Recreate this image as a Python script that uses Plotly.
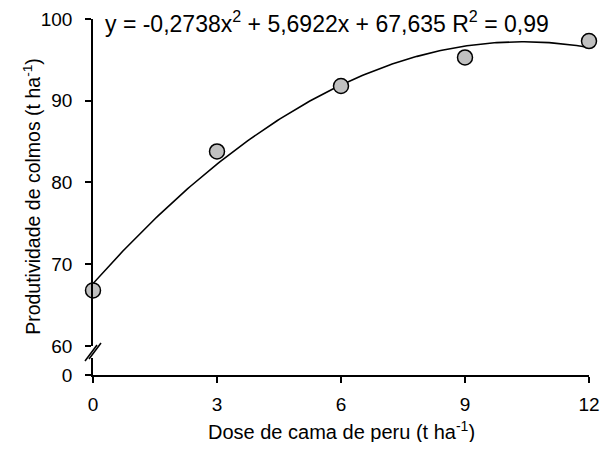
import numpy as np
import plotly.graph_objects as go

# Data
doses = [0, 3, 6, 9, 12]
produtividade = [66.8, 83.8, 91.8, 95.3, 97.3]
# regression coefficients shown on chart (a*x^2 + b*x + c)
coef_a, coef_b, coef_c = -0.2738, 5.6922, 67.635
x_ticks = [0, 3, 6, 9, 12]
y_ticks = [60, 70, 80, 90, 100]
equation = "y = -0,2738x<sup>2</sup> + 5,6922x + 67,635 R<sup>2</sup> = 0,99"
x_title = "Dose de cama de peru (t ha<sup>-1</sup>)"
y_title = "Produtividade de colmos (t ha<sup>-1</sup>)"

xf = np.linspace(0, 12, 200)
yf = coef_a * xf**2 + coef_b * xf + coef_c

FONT = "Liberation Sans, Arial, sans-serif"
OFF = 8  # page body margin
W, H = 609 - 2 * OFF, 450 - 2 * OFF
# target page pixels: plot left 93, right 589, top 19.3, bottom 375
L, R, T = 93 - OFF, W - (589 - OFF), 19.3 - OFF
B = H - (375 - OFF)
H_PLOT = H - T - B
W_PLOT = W - L - R

fig = go.Figure()
fig.add_trace(go.Scatter(x=xf, y=yf, mode="lines",
                         line=dict(color="black", width=1.6),
                         hoverinfo="skip", showlegend=False,
                         xaxis="x", yaxis="y"))
fig.add_trace(go.Scatter(x=doses, y=produtividade, mode="markers",
                         marker=dict(size=15, color="#c0c0c0",
                                     line=dict(color="black", width=1.5)),
                         cliponaxis=False, showlegend=False,
                         xaxis="x", yaxis="y"))
# invisible trace to create lower (broken) axis segment
fig.add_trace(go.Scatter(x=[0], y=[0], mode="markers",
                         marker=dict(size=1, opacity=0), showlegend=False,
                         hoverinfo="skip", xaxis="x", yaxis="y2"))

d_main = (375 - 346) / H_PLOT
d_low = (375 - 358) / H_PLOT
d_break = (375 - 351) / H_PLOT

axis_common = dict(showline=True, linecolor="black", linewidth=1.5,
                   ticks="outside", ticklen=6, tickwidth=1.5, tickcolor="black",
                   showgrid=False, zeroline=False, automargin=False,
                   tickfont=dict(size=19))

fig.update_layout(
    width=W, height=H,
    margin=dict(l=L, r=R, t=T, b=B),
    paper_bgcolor="white", plot_bgcolor="white",
    font=dict(family=FONT, size=19, color="black"),
    xaxis=dict(range=[0, 12], tickvals=x_ticks, anchor="y2",
               ticklabelstandoff=5, **axis_common),
    yaxis=dict(domain=[d_main, 1], range=[60, 100], tickvals=y_ticks,
               anchor="x", ticklabelstandoff=9, **axis_common),
    yaxis2=dict(domain=[0, d_low], range=[0, 10], tickvals=[0],
                anchor="x", ticklabelstandoff=9, **axis_common),
    annotations=[
        dict(text=equation, x=0, y=99.6, xref="x", yref="y",
             xanchor="left", yanchor="middle", xshift=10,
             showarrow=False, font=dict(size=23)),
        dict(text=x_title, x=0.5, y=-(430 - 375) / H_PLOT, xref="paper", yref="paper",
             xanchor="center", yanchor="middle", showarrow=False,
             font=dict(size=20)),
        dict(text=y_title, x=-(93 - 32) / W_PLOT, y=(375 - 197) / H_PLOT,
             xref="paper", yref="paper", textangle=-90,
             xanchor="center", yanchor="middle", showarrow=False,
             font=dict(size=19.5)),
    ],
    shapes=[
        dict(type="line", xref="paper", yref="paper", xsizemode="pixel", ysizemode="pixel",
             xanchor=0, yanchor=d_break, x0=-8, x1=4, y0=-10, y1=6,
             line=dict(color="black", width=1.5)),
        dict(type="line", xref="paper", yref="paper", xsizemode="pixel", ysizemode="pixel",
             xanchor=0, yanchor=d_break, x0=-4, x1=8, y0=-8, y1=8,
             line=dict(color="black", width=1.5)),
    ],
)

fig.write_html("out.html")
